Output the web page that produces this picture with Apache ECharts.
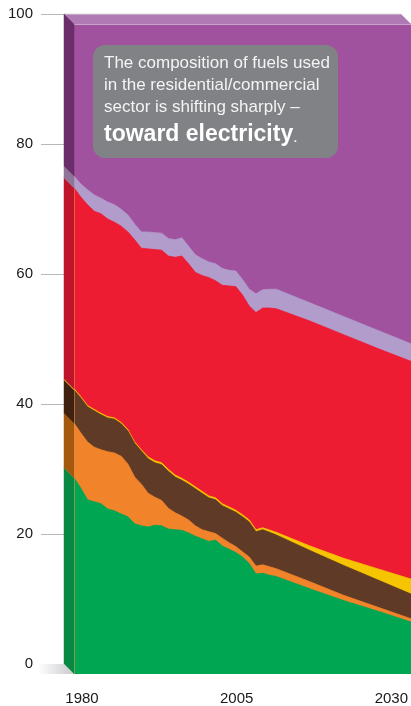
<!DOCTYPE html>
<html>
<head>
<meta charset="utf-8">
<script src="https://cdn.jsdelivr.net/npm/echarts@6/dist/echarts.min.js"></script>
<style>
html,body{margin:0;padding:0;background:#fff;}
#chart{width:411px;height:706px;}
</style>
</head>
<body>
<div id="chart"></div>
<script>
// ---- data (percent share of fuels, stacked bottom -> top) ----
const years = [1980,1981,1982,1983,1984,1985,1986,1987,1988,1989,
               1990,1991,1992,1993,1994,1995,1996,1997,1998,1999,
               2000,2001,2002,2003,2004,2005,2006,2007,2008,2009,
               2010,2015,2020,2025,2030];
const greenShare = [30.2,28.6,26.8,26.5,26.2,25.4,25.1,24.6,24.2,23.1,
                    22.8,22.6,22.9,22.8,22.3,22.2,22.1,21.7,21.2,20.8,
                    20.4,20.6,19.7,19.2,18.7,18.0,17.0,15.4,15.5,15.2,
                    15.0,13.1,11.3,9.7,8.0];
const orangeShare = [8.4,8.5,8.9,8.4,8.3,8.8,8.9,8.9,8.1,7.2,
                     6.4,5.2,4.3,3.9,3.2,2.6,2.2,2.0,1.6,1.4,
                     1.5,1.0,1.2,1.0,0.9,0.8,1.0,1.2,1.3,1.3,
                     1.2,1.1,0.8,0.6,0.5];
const brownShare = [5.1,5.4,5.4,5.6,5.4,5.2,5.2,5.0,5.1,5.2,
                    5.1,5.3,5.3,5.5,5.7,5.5,5.5,5.5,5.7,5.6,
                    5.2,5.2,5.0,5.2,5.3,5.4,5.4,5.3,5.4,5.3,
                    5.2,4.8,4.6,4.2,3.8];
const yellowShare = [0.2,0.2,0.2,0.2,0.2,0.2,0.2,0.2,0.2,0.2,
                     0.2,0.3,0.3,0.3,0.3,0.3,0.3,0.3,0.3,0.3,
                     0.3,0.3,0.3,0.3,0.3,0.3,0.3,0.3,0.3,0.35,
                     0.4,0.7,1.1,1.7,2.3];
const redShare = [30.9,30.7,30.9,30.5,30.7,30.4,30.1,30.2,30.4,31.1,
                  31.0,32.0,32.5,32.7,32.8,33.5,34.2,33.6,33.0,33.2,
                  33.6,33.4,33.6,34.0,34.4,33.8,32.9,33.4,33.8,34.15,
                  34.4,34.6,34.4,33.9,33.5];
const lavenderShare = [1.8,2.0,2.3,2.5,2.4,2.6,2.7,2.6,2.6,2.4,
                       2.5,2.6,2.6,2.6,2.7,2.7,2.8,2.7,2.7,2.6,
                       2.4,2.6,2.6,2.4,2.4,2.4,2.6,2.9,2.8,2.9,
                       3.0,2.8,2.8,2.8,2.7];
const purpleShare = [23.4,24.6,25.5,26.3,26.8,27.4,27.8,28.5,29.4,30.8,
                     32.0,32.0,32.1,32.2,33.0,33.2,32.9,34.2,35.5,36.1,
                     36.6,36.9,37.6,37.9,38.0,39.3,40.8,41.5,40.9,40.8,
                     40.8,42.9,45.0,47.1,49.2];
const yTicks = [0,20,40,60,80,100];
const xTicks = ['1980','2005','2030'];
const noteLines = ['The composition of fuels used',
                   'in the residential/commercial',
                   'sector is shifting sharply \u2013'];
const noteBold = 'toward electricity';

// ---- styling ----
const FONT = "'Liberation Sans', Arial, Helvetica, sans-serif";
const layers = [
  {name:'Green',    data:greenShare,    color:'#00a651', side:'#078944'},
  {name:'Orange',   data:orangeShare,   color:'#f1842a', side:'#a5590f'},
  {name:'Brown',    data:brownShare,    color:'#5f3a26', side:'#40200f'},
  {name:'Yellow',   data:yellowShare,   color:'#f6c400', side:'#c49b00'},
  {name:'Red',      data:redShare,      color:'#ed1c33', side:'#bf1429'},
  {name:'Lavender', data:lavenderShare, color:'#b19ccc', side:'#8f7598'},
  {name:'Purple',   data:purpleShare,   color:'#a0529f', side:'#6b2e6a'}
];
const DEPTH = 10;
const TOP = yTicks[yTicks.length-1];

// cumulative tops of each layer (stacking)
const cumTops = [];
layers.forEach((l, k) => {
  cumTops.push(years.map((y, i) => Math.min(TOP, (k ? cumTops[k-1][i] : 0) + l.data[i])));
});

const chart = echarts.init(document.getElementById('chart'), null, {renderer:'canvas'});

// draw from the top layer down so each lower layer paints over the one above
const areaSeries = layers.map((l, k) => ({
  type:'line', name:l.name,
  xAxisIndex:0, yAxisIndex:0,
  data: years.map((y,i) => [y, cumTops[k][i]]),
  symbol:'none', silent:true, z:2,
  lineStyle:{width:0.8, color:l.color},
  areaStyle:{color:l.color, opacity:1, origin:'start'},
  emphasis:{disabled:true}
})).reverse();

const depthSeries = {
  type:'custom', xAxisIndex:0, yAxisIndex:0, clip:false, silent:true, z:3,
  data:[[years[0], 0]],
  renderItem: function(params, api){
    const d = DEPTH, kids = [];
    const x0 = years[0], x1 = years[years.length-1];
    const tl = api.coord([x0, TOP]), tr = api.coord([x1, TOP]);
    // top face
    kids.push({type:'polygon', shape:{points:[[tl[0]-d,tl[1]-d],[tr[0]-d,tr[1]-d],tr,tl]},
               style:{fill:'#b07bb4'}});
    kids.push({type:'line', shape:{x1:tl[0]-d,y1:tl[1]-d,x2:tr[0]-d,y2:tr[1]-d},
               style:{stroke:'#d9d9d9', lineWidth:1}});
    kids.push({type:'line', shape:{x1:tl[0],y1:tl[1]+0.5,x2:tr[0],y2:tr[1]+0.5},
               style:{stroke:'#c9a2cb', lineWidth:1}});
    // side face bands
    layers.forEach((l, k) => {
      const lo = k ? cumTops[k-1][0] : 0, hi = cumTops[k][0];
      const a = api.coord([x0, lo]), b = api.coord([x0, hi]);
      kids.push({type:'polygon',
        shape:{points:[a,b,[b[0]-d,b[1]-d],[a[0]-d,a[1]-d]]},
        style:{fill:l.side, stroke:l.side, lineWidth:0.5}});
    });
    // floor shadow
    const o = api.coord([x0, 0]);
    kids.push({type:'polygon',
      shape:{points:[[o[0]-d-26,o[1]-d],[o[0]-d,o[1]-d],o,[o[0]-d-26,o[1]]]},
      style:{fill:new echarts.graphic.LinearGradient(0,0,1,0,[
        {offset:0,color:'rgba(255,255,255,1)'},{offset:1,color:'#c9c9cc'}])}});
    // front vertical edge highlight
    const e1 = api.coord([x0, cumTops[4][0]]);
    kids.push({type:'line', shape:{x1:o[0]+0.5,y1:o[1],x2:e1[0]+0.5,y2:e1[1]},
               style:{stroke:'rgba(235,150,80,0.55)', lineWidth:1}});
    return {type:'group', children:kids};
  }
};

const option = {
  animation:false,
  backgroundColor:'#ffffff',
  grid:[
    {left:74, top:24, width:339, height:650},   // front face
    {left:64, top:14, width:339, height:650},   // back plane (value ticks)
    {left:82, top:24, width:311, height:650}    // year labels
  ],
  xAxis:[
    {gridIndex:0, type:'value', min:years[0], max:years[years.length-1], show:false},
    {gridIndex:1, type:'value', min:years[0], max:years[years.length-1], show:false},
    {gridIndex:2, type:'category', data:xTicks, boundaryGap:false,
     axisLine:{show:false}, axisTick:{show:false}, splitLine:{show:false},
     axisLabel:{margin:17, fontSize:15, color:'#1a1a1a', fontFamily:FONT, interval:0}}
  ],
  yAxis:[
    {gridIndex:0, type:'value', min:yTicks[0], max:TOP, show:false},
    {gridIndex:1, type:'value', min:yTicks[0], max:TOP, interval:yTicks[1]-yTicks[0],
     axisLine:{show:false}, splitLine:{show:false},
     axisTick:{show:true, inside:false, length:23, lineStyle:{color:'#b8b8b8', width:1}},
     axisLabel:{margin:31, fontSize:15, color:'#1a1a1a', fontFamily:FONT}},
    {gridIndex:2, type:'value', show:false}
  ],
  series: areaSeries.concat([depthSeries]),
  graphic:[
    {type:'rect', left:93, top:45, z:10,
     shape:{width:245, height:113, r:12}, style:{fill:'#808285'}},
    {type:'text', x:104, y:63, z:11, style:{text:noteLines[0], fill:'#f4f4f4', font:'17px '+FONT, textVerticalAlign:'middle'}},
    {type:'text', x:104, y:85.5, z:11, style:{text:noteLines[1], fill:'#f4f4f4', font:'17px '+FONT, textVerticalAlign:'middle'}},
    {type:'text', x:104, y:107.5, z:11, style:{text:noteLines[2], fill:'#f4f4f4', font:'17px '+FONT, textVerticalAlign:'middle'}},
    {type:'text', x:104, y:135, z:11, style:{text:noteBold, fill:'#ffffff', font:'bold 23px '+FONT, textVerticalAlign:'middle'}},
    {type:'text', x:293, y:137.5, z:11, style:{text:'.', fill:'#f4f4f4', font:'17px '+FONT, textVerticalAlign:'middle'}}
  ]
};
chart.setOption(option);
</script>
</body>
</html>
